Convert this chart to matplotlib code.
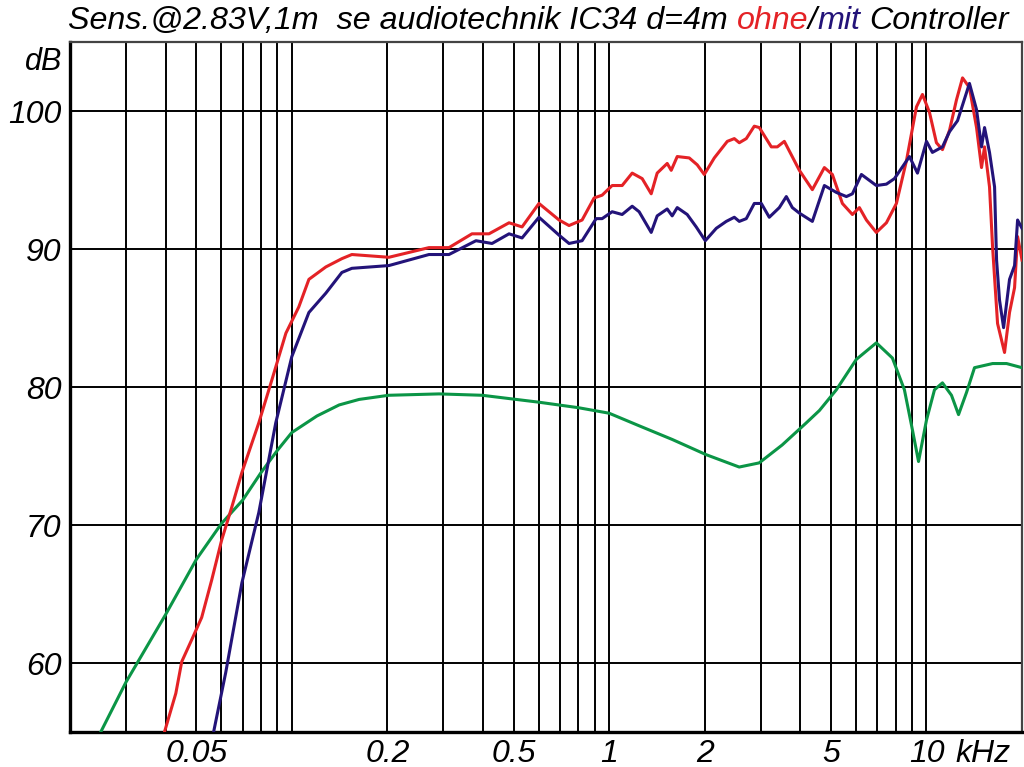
#!/usr/bin/env python3
"""
Frequency response plot: se audiotechnik IC34, with and without controller
"""

import matplotlib
matplotlib.use("Agg")
import matplotlib.pyplot as plt
from matplotlib.ticker import FixedLocator, NullFormatter

# frequency in kHz, level in dB
ohne_f = [0.0397, 0.0431, 0.0450, 0.0484, 0.0520, 0.0559, 0.0601, 0.0647, 0.0696,
          0.0787, 0.0865, 0.0958, 0.1052, 0.1132, 0.128, 0.1438, 0.1546, 0.2023,
          0.2705, 0.3128, 0.3696, 0.4182, 0.4837, 0.5316, 0.601, 0.6955, 0.7475,
          0.8219, 0.8968, 0.9504, 1.022, 1.099, 1.182, 1.271, 1.357, 1.417, 1.524,
          1.569, 1.639, 1.788, 1.895, 1.994, 2.145, 2.357, 2.480, 2.571, 2.705,
          2.867, 2.973, 3.244, 3.388, 3.565, 3.976, 4.369, 4.767, 5.052, 5.433,
          5.843, 6.146, 6.467, 6.95, 7.477, 8.04, 8.648, 9.299, 9.714, 10.22,
          10.75, 11.23, 11.82, 12.43, 12.99, 13.66, 14.38, 14.91, 15.24, 15.80,
          16.16, 16.75, 17.62, 18.27, 18.95, 19.37, 20.0]
ohne_db = [55.0, 57.8, 60.1, 61.7, 63.3, 66.0, 68.9, 71.3, 73.8,
           77.4, 80.5, 83.9, 85.8, 87.8, 88.7, 89.3, 89.6, 89.4,
           90.1, 90.1, 91.1, 91.1, 91.9, 91.6, 93.3, 92.1, 91.7,
           92.1, 93.7, 93.9, 94.6, 94.6, 95.5, 95.1, 94.0, 95.5, 96.2,
           95.7, 96.7, 96.6, 96.1, 95.4, 96.6, 97.8, 98.0, 97.7, 98.0,
           98.9, 98.8, 97.4, 97.4, 97.8, 95.7, 94.3, 95.9, 95.4, 93.3,
           92.5, 93.0, 92.1, 91.2, 91.9, 93.3, 96.4, 100.3, 101.2, 99.9,
           97.7, 97.2, 98.6, 100.8, 102.4, 101.7, 98.8, 95.9, 97.4, 94.5,
           90.1, 84.6, 82.5, 85.4, 87.2, 90.9, 89.2]

mit_f = [0.0567, 0.0619, 0.0696, 0.0787, 0.0890, 0.100, 0.1132, 0.128, 0.1438,
         0.1546, 0.2023, 0.2705, 0.3128, 0.3805, 0.4275, 0.4837, 0.5316, 0.601,
         0.6955, 0.7475, 0.8219, 0.910, 0.9504, 1.022, 1.099, 1.182, 1.243,
         1.357, 1.417, 1.524, 1.580, 1.639, 1.762, 1.881, 2.009, 2.176, 2.339,
         2.480, 2.571, 2.705, 2.867, 3.017, 3.196, 3.438, 3.617, 3.778, 3.976,
         4.369, 4.767, 5.20, 5.593, 5.843, 6.237, 6.95, 7.477, 7.926, 8.839,
         9.367, 10.0, 10.44, 11.23, 11.82, 12.53, 13.66, 14.38, 14.91, 15.24,
         15.80, 16.39, 16.63, 16.99, 17.50, 18.27, 18.95, 19.37, 20.0]
mit_db = [55.0, 59.3, 65.8, 70.9, 77.4, 82.2, 85.4, 86.8, 88.3,
          88.6, 88.8, 89.6, 89.6, 90.6, 90.4, 91.1, 90.8, 92.3,
          91.0, 90.4, 90.6, 92.2, 92.2, 92.7, 92.5, 93.1, 92.7,
          91.2, 92.4, 92.9, 92.4, 93.0, 92.5, 91.6, 90.6, 91.5, 92.0,
          92.3, 92.0, 92.2, 93.3, 93.3, 92.3, 93.0, 93.8, 93.0, 92.6,
          92.0, 94.6, 94.1, 93.8, 94.0, 95.4, 94.6, 94.7, 95.1, 96.7,
          95.5, 97.8, 97.0, 97.4, 98.5, 99.3, 102.0, 100.1, 97.4, 98.8,
          97.0, 94.5, 89.2, 86.3, 84.3, 87.8, 88.8, 92.1, 91.5]

ctrl_f = [0.025, 0.030, 0.040, 0.050, 0.060, 0.070, 0.080, 0.090, 0.100, 0.120,
          0.141, 0.163, 0.202, 0.291, 0.398, 0.60, 0.80, 1.0, 1.24, 1.58, 2.02,
          2.57, 2.97, 3.51, 4.18, 4.60, 5.20, 6.01, 6.95, 7.81, 8.52, 9.03, 9.44,
          10.0, 10.6, 11.23, 11.99, 12.62, 13.37, 14.17, 16.16, 17.88, 20.0]
ctrl_db = [55.0, 58.6, 63.5, 67.5, 70.1, 71.8, 73.8, 75.4, 76.7, 77.9,
           78.7, 79.1, 79.4, 79.5, 79.4, 78.9, 78.5, 78.1, 77.2, 76.2, 75.1,
           74.2, 74.5, 75.8, 77.4, 78.3, 79.8, 82.0, 83.2, 82.1, 79.8, 76.9, 74.6,
           77.6, 79.8, 80.3, 79.4, 78.0, 79.6, 81.4, 81.7, 81.7, 81.4]

x_major = [0.05, 0.2, 0.5, 1, 2, 5, 10]
x_major_labels = ['0.05', '0.2', '0.5', '1', '2', '5', '10']
x_minor = [0.03, 0.04, 0.06, 0.07, 0.08, 0.09, 0.1, 0.3, 0.4, 0.6, 0.7, 0.8, 0.9,
           3, 4, 6, 7, 8, 9]
y_ticks = [60, 70, 80, 90, 100]

RED = '#e42226'
BLUE = '#231379'
GREEN = '#0b9546'
FONT = 'Liberation Sans'

W, H = 1024, 767
fig = plt.figure(figsize=(W / 100, H / 100), dpi=100)
ax = fig.add_axes([70 / W, 35 / H, 952 / W, 690 / H])

ax.set_xscale('log')
ax.set_xlim(0.02, 20)
ax.set_ylim(55, 105)

ax.xaxis.set_major_locator(FixedLocator(x_major))
ax.xaxis.set_minor_locator(FixedLocator(x_minor))
ax.xaxis.set_minor_formatter(NullFormatter())
ax.set_xticklabels(x_major_labels)
ax.set_yticks(y_ticks)
ax.set_yticklabels([str(v) for v in y_ticks])

ax.grid(True, which='both', color='black', linewidth=1.4)
ax.tick_params(which='both', length=0)
ax.tick_params(axis='x', pad=5)
ax.tick_params(axis='y', pad=6)
for lab in ax.get_xticklabels() + ax.get_yticklabels():
    lab.set_fontfamily(FONT)
    lab.set_fontstyle('italic')
    lab.set_fontsize(23)

for side in ['left', 'bottom']:
    ax.spines[side].set_linewidth(2.4)
    ax.spines[side].set_color('black')
for side in ['top', 'right']:
    ax.spines[side].set_linewidth(1.6)
    ax.spines[side].set_color('#444444')

ax.plot(ctrl_f, ctrl_db, color=GREEN, linewidth=2.2, zorder=3)
ax.plot(ohne_f, ohne_db, color=RED, linewidth=2.2, zorder=4)
ax.plot(mit_f, mit_db, color=BLUE, linewidth=2.2, zorder=5)

fig.text(62 / W, 1 - 62 / H, 'dB', ha='right', va='center',
         fontfamily=FONT, fontstyle='italic', fontsize=22)
fig.text(955 / W, 1 - 754 / H, 'kHz', ha='left', va='center',
         fontfamily=FONT, fontstyle='italic', fontsize=23)

# multi-coloured title, pieces placed one after another
pieces = [('Sens.@2.83V,1m  se audiotechnik IC34 d=4m ', 'black'),
          ('ohne', RED), ('/', 'black'), ('mit', BLUE), (' Controller', 'black')]
renderer = fig.canvas.get_renderer()
title_kw = dict(fontfamily=FONT, fontstyle='italic', fontsize=23.2)


def text_width(s):
    t = fig.text(0, 0, s + '|', **title_kw)
    w1 = t.get_window_extent(renderer).width
    t.remove()
    t = fig.text(0, 0, '|', **title_kw)
    w2 = t.get_window_extent(renderer).width
    t.remove()
    return w1 - w2


x0 = 68
prefix = ''
for s, c in pieces:
    lead = len(s) - len(s.lstrip(' '))
    xs = x0 + text_width(prefix + s[:lead]) if (prefix + s[:lead]) else x0
    fig.text(xs / W, 1 - 29 / H, s.lstrip(' '), color=c, ha='left',
             va='baseline', **title_kw)
    prefix += s

plt.savefig('out.png', dpi=100)
plt.close()
